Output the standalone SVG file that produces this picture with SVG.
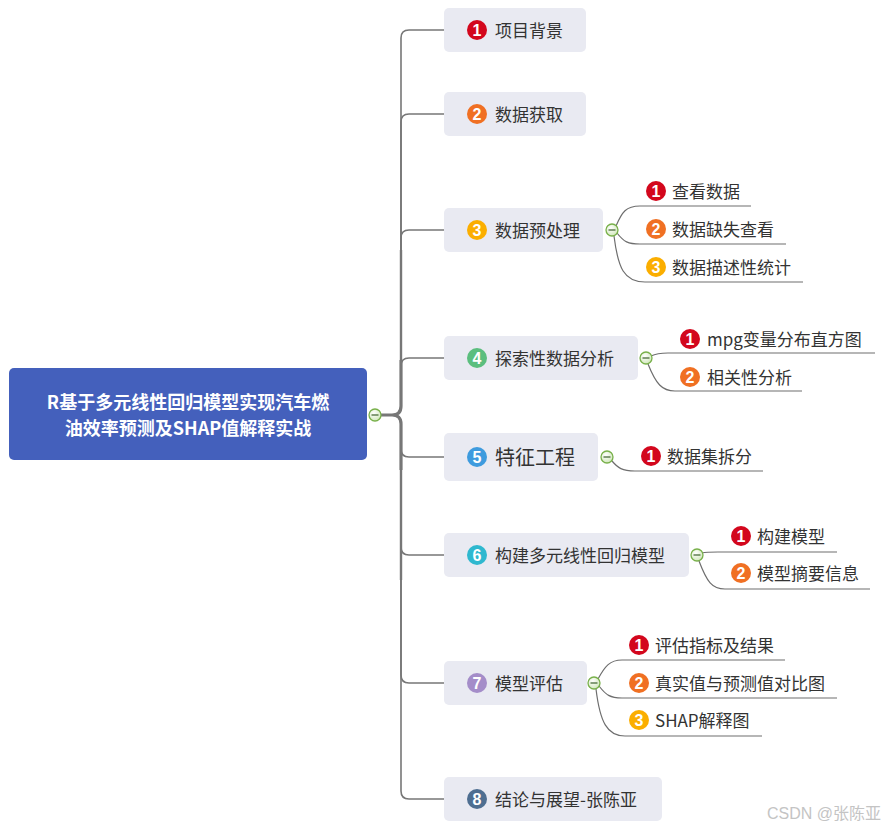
<svg xmlns="http://www.w3.org/2000/svg" width="885" height="828" viewBox="0 0 885 828">
<defs>
<style>
.box{fill:#E9EAF2}
.lbl{font-family:"Noto Sans CJK SC","Liberation Sans",sans-serif;font-size:17px;fill:#333333;dominant-baseline:central}
.num{font-family:"Liberation Sans",sans-serif;font-size:16px;font-weight:bold;fill:#ffffff;text-anchor:middle;dominant-baseline:central}
.br{fill:none;stroke:#777777;stroke-width:1.6}
.ul{fill:none;stroke:#6e6e6e;stroke-width:1.2}
.tg{fill:url(#tgg);stroke:#78B04A;stroke-width:1.3}
.tm{stroke:#4a6b3a;stroke-width:1.3}
.c1{fill:#D3071D}.c2{fill:#F07023}.c3{fill:#FBAE00}.c4{fill:#5BBE7E}
.c5{fill:#3E9BDE}.c6{fill:#2FB8CF}.c7{fill:#A48DC9}.c8{fill:#4E6E91}
</style>
<radialGradient id="tgg" cx="0.4" cy="0.35" r="0.7">
<stop offset="0" stop-color="#ffffff"/>
<stop offset="1" stop-color="#cfe6b8"/>
</radialGradient>
</defs>

<g id="connectors">
<path class="br" d="M381,415 H392 Q401,415 401,406 V38 Q401,30 409,30 H444"/>
<path class="br" d="M381,415 H392 Q401,415 401,406 V122 Q401,114 409,114 H444"/>
<path class="br" d="M381,415 H392 Q401,415 401,406 V238 Q401,230 409,230 H444"/>
<path class="br" d="M381,415 H392 Q401,415 401,406 V366 Q401,358 409,358 H444"/>
<path class="br" d="M381,415 H392 Q401,415 401,424 V449 Q401,457 409,457 H444"/>
<path class="br" d="M381,415 H392 Q401,415 401,424 V547 Q401,555 409,555 H444"/>
<path class="br" d="M381,415 H392 Q401,415 401,424 V675 Q401,683 409,683 H444"/>
<path class="br" d="M381,415 H392 Q401,415 401,424 V791 Q401,799 409,799 H444"/>
<path fill="none" stroke="#777777" stroke-width="3.2" d="M381,415 H392 Q401,415 401,406 V360 M392,415 Q401,415 401,424 V470"/>
<path fill="none" stroke="#777777" stroke-width="2.4" d="M401,360 V250 M401,470 V580"/>

<path class="ul" d="M616,226 C622,212 626,206 640,206 H751"/>
<path class="ul" d="M617,233 C624,242 628,244 640,244 H786"/>
<path class="ul" d="M614,236 C618,268 624,282 645,282 H803"/>

<path class="ul" d="M651,356 C655,354 658,353 668,353 H875"/>
<path class="ul" d="M648,364 C656,384 662,391 675,391 H802"/>

<path class="ul" d="M612,461 C618,468 622,471 635,471 H763"/>

<path class="ul" d="M702,553 C706,552 709,552 718,552 H837"/>
<path class="ul" d="M699,561 C707,582 712,589 725,589 H870"/>

<path class="ul" d="M598,679 C605,666 610,660 622,660 H785"/>
<path class="ul" d="M599,686 C606,695 610,698 622,698 H837"/>
<path class="ul" d="M596,689 C600,722 607,736 625,736 H762"/>
</g>

<g id="root">
<rect x="9" y="368" width="358" height="92" rx="5" fill="#4460BC"/>
<text x="188" y="401" font-family="'Noto Sans CJK SC','Liberation Sans',sans-serif" font-size="18" font-weight="bold" fill="#ffffff" text-anchor="middle" dominant-baseline="central">R基于多元线性回归模型实现汽车燃</text>
<text x="188" y="427" font-family="'Noto Sans CJK SC','Liberation Sans',sans-serif" font-size="18" font-weight="bold" fill="#ffffff" text-anchor="middle" dominant-baseline="central">油效率预测及SHAP值解释实战</text>
<circle class="tg" cx="375" cy="415" r="6"/><line class="tm" x1="371.5" y1="415" x2="378.5" y2="415"/>
</g>

<g id="n1">
<rect class="box" x="444" y="8" width="142" height="44" rx="5"/>
<circle class="c1" cx="477" cy="30" r="10"/><text class="num" x="477" y="30">1</text>
<text class="lbl" x="495" y="29">项目背景</text>
</g>

<g id="n2">
<rect class="box" x="444" y="92" width="142" height="44" rx="5"/>
<circle class="c2" cx="477" cy="114" r="10"/><text class="num" x="477" y="114">2</text>
<text class="lbl" x="495" y="113">数据获取</text>
</g>

<g id="n3">
<rect class="box" x="444" y="208" width="159" height="44" rx="5"/>
<circle class="c3" cx="477" cy="230" r="10"/><text class="num" x="477" y="230">3</text>
<text class="lbl" x="495" y="229">数据预处理</text>
<circle class="tg" cx="612" cy="230" r="6"/><line class="tm" x1="608.5" y1="230" x2="615.5" y2="230"/>
</g>
<g id="n3-1"><circle class="c1" cx="656" cy="191" r="10"/><text class="num" x="656" y="191">1</text><text class="lbl" x="672" y="190">查看数据</text></g>
<g id="n3-2"><circle class="c2" cx="656" cy="229" r="10"/><text class="num" x="656" y="229">2</text><text class="lbl" x="672" y="228">数据缺失查看</text></g>
<g id="n3-3"><circle class="c3" cx="656" cy="267" r="10"/><text class="num" x="656" y="267">3</text><text class="lbl" x="672" y="266">数据描述性统计</text></g>

<g id="n4">
<rect class="box" x="444" y="336" width="194" height="44" rx="5"/>
<circle class="c4" cx="477" cy="358" r="10"/><text class="num" x="477" y="358">4</text>
<text class="lbl" x="495" y="357">探索性数据分析</text>
<circle class="tg" cx="646" cy="358" r="6"/><line class="tm" x1="642.5" y1="358" x2="649.5" y2="358"/>
</g>
<g id="n4-1"><circle class="c1" cx="690" cy="339" r="10"/><text class="num" x="690" y="339">1</text><text class="lbl" x="707" y="338">mpg变量分布直方图</text></g>
<g id="n4-2"><circle class="c2" cx="690" cy="377" r="10"/><text class="num" x="690" y="377">2</text><text class="lbl" x="707" y="376">相关性分析</text></g>

<g id="n5">
<rect class="box" x="444" y="433" width="154" height="48" rx="5"/>
<circle class="c5" cx="477" cy="457" r="10"/><text class="num" x="477" y="457">5</text>
<text class="lbl" x="495" y="456" style="font-size:20px">特征工程</text>
<circle class="tg" cx="607" cy="457" r="6"/><line class="tm" x1="603.5" y1="457" x2="610.5" y2="457"/>
</g>
<g id="n5-1"><circle class="c1" cx="651" cy="456" r="10"/><text class="num" x="651" y="456">1</text><text class="lbl" x="667" y="455">数据集拆分</text></g>

<g id="n6">
<rect class="box" x="444" y="533" width="245" height="44" rx="5"/>
<circle class="c6" cx="477" cy="555" r="10"/><text class="num" x="477" y="555">6</text>
<text class="lbl" x="495" y="554">构建多元线性回归模型</text>
<circle class="tg" cx="697" cy="555" r="6"/><line class="tm" x1="693.5" y1="555" x2="700.5" y2="555"/>
</g>
<g id="n6-1"><circle class="c1" cx="741" cy="536" r="10"/><text class="num" x="741" y="536">1</text><text class="lbl" x="757" y="535">构建模型</text></g>
<g id="n6-2"><circle class="c2" cx="741" cy="573" r="10"/><text class="num" x="741" y="573">2</text><text class="lbl" x="757" y="572">模型摘要信息</text></g>

<g id="n7">
<rect class="box" x="444" y="661" width="143" height="44" rx="5"/>
<circle class="c7" cx="477" cy="683" r="10"/><text class="num" x="477" y="683">7</text>
<text class="lbl" x="495" y="682">模型评估</text>
<circle class="tg" cx="594" cy="683" r="6"/><line class="tm" x1="590.5" y1="683" x2="597.5" y2="683"/>
</g>
<g id="n7-1"><circle class="c1" cx="639" cy="645" r="10"/><text class="num" x="639" y="645">1</text><text class="lbl" x="655" y="644">评估指标及结果</text></g>
<g id="n7-2"><circle class="c2" cx="639" cy="683" r="10"/><text class="num" x="639" y="683">2</text><text class="lbl" x="655" y="682">真实值与预测值对比图</text></g>
<g id="n7-3"><circle class="c3" cx="639" cy="720" r="10"/><text class="num" x="639" y="720">3</text><text class="lbl" x="655" y="719">SHAP解释图</text></g>

<g id="n8">
<rect class="box" x="444" y="777" width="218" height="44" rx="5"/>
<circle class="c8" cx="477" cy="799" r="10"/><text class="num" x="477" y="799">8</text>
<text class="lbl" x="495" y="798">结论与展望-张陈亚</text>
</g>

<text x="881" y="813" font-family="'Liberation Sans','Noto Sans CJK SC',sans-serif" font-size="16" fill="#c4c4c4" text-anchor="end" dominant-baseline="central">CSDN @张陈亚</text>
</svg>
